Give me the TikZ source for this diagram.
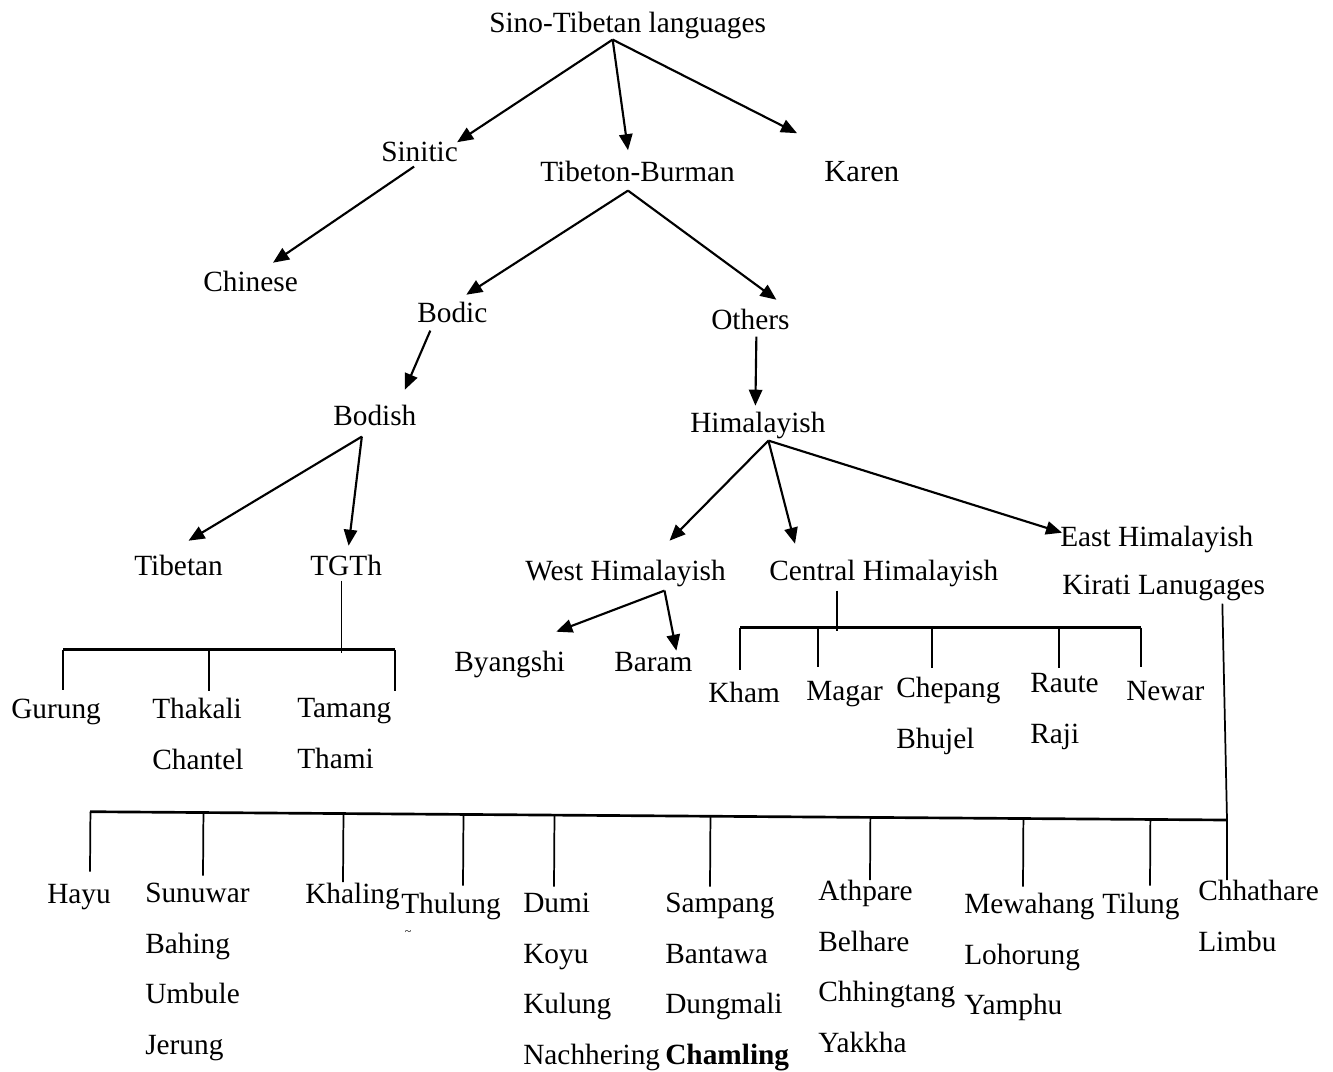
\documentclass[tikz,border=0pt]{standalone}
\usepackage{fontspec}
\setmainfont{Liberation Serif}
\usetikzlibrary{arrows.meta,calc}

\begin{document}
\begin{tikzpicture}[>={Triangle[length=12pt,width=10pt]},x=0.75pt,y=-0.75pt,
  lang/.style={anchor=base west,inner sep=0pt,text height=15.4pt,text depth=5.5pt,font=\fontsize{22}{26}\selectfont},
  stack/.style={anchor=north west,inner sep=0pt,align=left,font=\fontsize{22}{37.9}\selectfont},
  link/.style={->,line width=1.6pt},
  bar/.style={line width=2pt},
  drop/.style={line width=1.3pt}]
  \useasboundingbox (0,0) rectangle (1333,1071);
  % upper levels
  \node[lang] (root) at (489,32) {Sino-Tibetan languages};
  \node[lang] (sinitic) at (381,161) {Sinitic};
  \node[lang] (tibburman) at (540,181) {Tibeton-Burman};
  \node[lang,font=\fontsize{23}{27}\selectfont] (karen) at (824,181) {Karen};
  \node[lang] (chinese) at (203,291) {Chinese};
  \node[lang] (bodic) at (417,322) {Bodic};
  \node[lang] (others) at (711,329) {Others};
  \node[lang] (bodish) at (333,425) {Bodish};
  \node[lang] (himalayish) at (690,432) {Himalayish};
  \node[lang] (tibetan) at (134,575) {Tibetan};
  \node[lang] (tgth) at (310,575) {TGTh};
  \node[lang] (westhim) at (525,580) {West Himalayish};
  \node[lang] (centralhim) at (769,580) {Central Himalayish};
  \node[lang] (easthim) at (1060,546) {East Himalayish};
  \node[lang] (kirati) at (1062,594) {Kirati Lanugages};
  \node[lang] (byangshi) at (454,671) {Byangshi};
  \node[lang] (baram) at (614,671) {Baram};
  % TGTh group
  \node[lang] (gurung) at (11,718) {Gurung};
  \node[stack] (thakali) at (152,698) {Thakali\\Chantel};
  \node[stack] (tamang) at (297,698) {Tamang\\Thami};
  % central group
  \node[lang] (kham) at (708,702) {Kham};
  \node[lang] (magar) at (806,700) {Magar};
  \node[stack] (chepang) at (896,677) {Chepang\\Bhujel};
  \node[stack] (raute) at (1030,673) {Raute\\Raji};
  \node[lang] (newar) at (1126,700) {Newar};
  % Kirati group
  \node[lang] (hayu) at (47,903) {Hayu};
  \node[stack] (sunuwar) at (145,883) {Sunuwar\\Bahing\\Umbule\\Jerung};
  \node[lang] (khaling) at (305,903) {Khaling};
  \node[lang] (thulung) at (401,913) {Thulung};
  \node[font=\fontsize{9}{10}\selectfont,inner sep=0pt] (thulungmark) at (408,933) {\textasciitilde};
  \node[stack] (dumi) at (523,893) {Dumi\\Koyu\\Kulung\\Nachhering};
  \node[stack] (sampang) at (665,893) {Sampang\\Bantawa\\Dungmali\\\textbf{Chamling}};
  \node[stack] (athpare) at (818,880) {Athpare\\Belhare\\Chhingtang\\Yakkha};
  \node[stack] (mewahang) at (964,893) {Mewahang\\Lohorung\\Yamphu};
  \node[lang] (tilung) at (1102,913) {Tilung};
  \node[stack] (chhathare) at (1198,880) {Chhathare\\Limbu};

  % arrows
  \coordinate (root-fork) at ($(root.south)+(-15,0)$);
  \draw[link] (root-fork) -- ($(sinitic.north east)+(-1,2)$);
  \draw[link] (root-fork) -- ($(tibburman.north)+(-9.5,-10)$);
  \draw[link] (root-fork) -- ($(karen.north west)+(-27,-27)$);
  \draw[link] ($(sinitic.south)+(-5.5,-2)$) -- ($(chinese.north)+(22.5,-7.5)$);
  \coordinate (tb-fork) at ($(tibburman.south)+(-9.5,2)$);
  \draw[link] (tb-fork) -- ($(bodic.north)+(14,-6.5)$);
  \draw[link] (tb-fork) -- ($(others.north)+(26,-8.5)$);
  \draw[link] ($(bodic.south)+(-22,1)$) -- ($(bodish.north)+(30,-14.5)$);
  \draw[link] ($(others.south)+(6,0)$) -- ($(himalayish.north)+(-2.5,-5.5)$);
  \coordinate (bodish-fork) at ($(bodish.south)+(-13,4)$);
  \draw[link] (bodish-fork) -- ($(tibetan.north)+(10,-13.5)$);
  \draw[link] (bodish-fork) -- ($(tgth.north)+(2.5,-8.5)$);
  \coordinate (him-fork) at ($(himalayish.south)+(10.5,1)$);
  \draw[link] (him-fork) -- ($(westhim.north)+(44,-18.5)$);
  \draw[link] (him-fork) -- ($(centralhim.north west)+(26,-15.5)$);
  \draw[link] (him-fork) -- ($(easthim.north west)+(2,7.5)$);
  \coordinate (west-fork) at ($(westhim.south)+(39,3)$);
  \draw[link] (west-fork) -- ($(byangshi.north east)+(-9,-18.5)$);
  \draw[link] (west-fork) -- ($(baram.north)+(23,0.5)$);

  % TGTh bracket
  \coordinate (tgth-stem) at ($(tgth.south)+(-4.5,-2)$);
  \coordinate (tgth-bar) at ($(tgth-stem)+(0,69)$);
  \foreach \n/\dx in {gurung/52,thakali/57,tamang/98}{
    \coordinate (\n-end) at ($(\n.north west)+(\dx,-7.5)$);
    \draw[drop] (\n-end |- tgth-bar) -- (\n-end);
  }
  \draw[bar] (gurung-end |- tgth-bar) -- (tamang-end |- tgth-bar);
  \draw[drop] (tgth-stem) -- ++(0,72);

  % central bracket
  \coordinate (cen-stem) at ($(centralhim.south)+(-47,3)$);
  \coordinate (cen-bar) at ($(cen-stem)+(0,37)$);
  \foreach \n/\dx/\gap in {kham/32/11.5,magar/12/12.5,chepang/36/9.5,raute/29/5.5,newar/15/12.5}{
    \coordinate (\n-end) at ($(\n.north west)+(\dx,-\gap)$);
    \draw[drop] (\n-end |- cen-bar) -- (\n-end);
  }
  \draw[bar] (kham-end |- cen-bar) -- (newar-end |- cen-bar);
  \draw[drop] (cen-stem) -- ++(0,40);

  % Kirati bracket
  \coordinate (kir-stem) at ($(kirati.south east)+(-43,2)$);
  \foreach \n/\dx/\gap in {hayu/43/10.5,sunuwar/58/7.5,khaling/38/0,thulung/62/6.5,dumi/31/6.5,
    sampang/45/6.5,athpare/52/0,mewahang/59/6.5,tilung/48/6.5,chhathare/29/0}
    \coordinate (\n-end) at ($(\n.north west)+(\dx,-\gap)$);
  \coordinate (kir-barL) at ($(hayu-end)+(0,-60)$);
  \coordinate (kir-barR) at ($(chhathare-end)+(0,-60)$);
  \draw[bar] (kir-barL) -- (kir-barR);
  \foreach \n in {hayu,sunuwar,khaling,thulung,dumi,sampang,athpare,mewahang,tilung}
    \draw[drop] ($(kir-barL)!(\n-end)!(kir-barR)$) -- (\n-end);
  \draw[drop] (kir-stem) -- (kir-barR) -- (chhathare-end);
\end{tikzpicture}
\end{document}
